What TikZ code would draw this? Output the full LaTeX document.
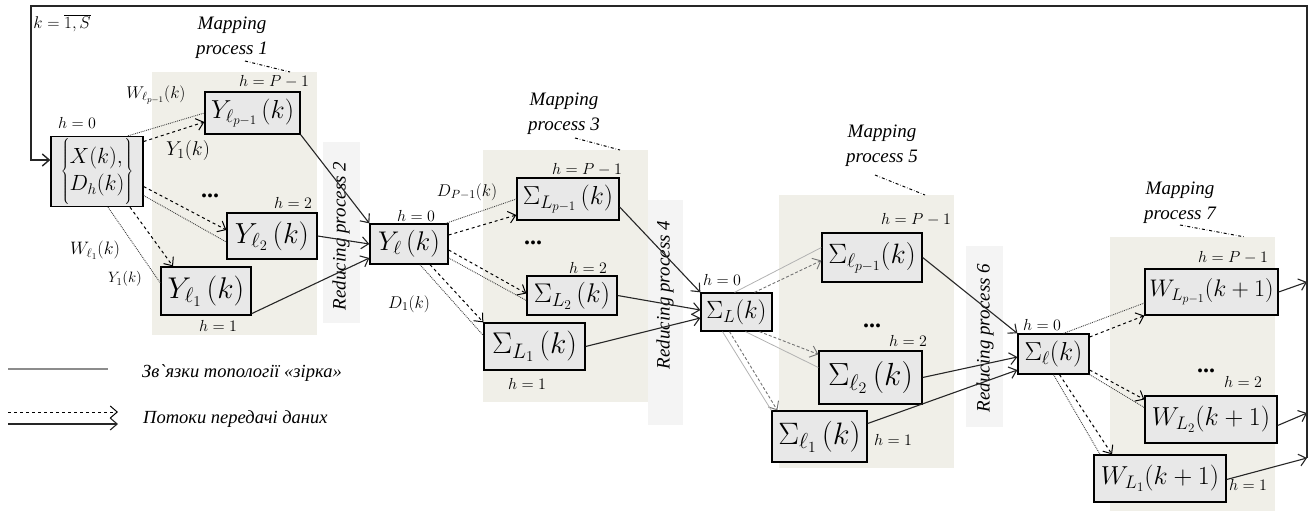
\RequirePackage{fix-cm}
\documentclass[tikz,border=0pt]{standalone}
\usepackage{fontspec}
\setmainfont{Liberation Serif}
\usetikzlibrary{arrows.meta,calc}
\definecolor{boxfill}{HTML}{E8E8E8}
\definecolor{mapfill}{HTML}{F0EFE8}
\definecolor{redfill}{HTML}{F4F4F4}
\newcommand{\fs}[1]{\fontsize{#1}{#1}\selectfont}
\tikzset{
  box/.style={draw=black, line width=1.3pt, fill=boxfill, inner sep=0pt},
  hlab/.style={inner sep=0pt, font=\fs{16}},
  slab/.style={inner sep=0pt, font=\fs{17}},
  proc/.style={inner sep=0pt, font=\fontsize{19}{25}\selectfont\itshape, align=center},
  legtext/.style={inner sep=0pt, anchor=west, font=\fontsize{18.5}{20}\selectfont\itshape},
  dots/.style={inner sep=0pt, font=\fs{24}\bfseries},
  barb/.tip={Straight Barb[length=7pt,width=12pt]},
  star/.style={densely dotted, line width=0.9pt, black!75},
  starlight/.style={line width=0.8pt, black!30},
  flow/.style={dashed, line width=1pt, -barb},
  flowlight/.style={densely dashed, line width=0.9pt, black!55, -barb},
  reduce/.style={line width=1.1pt, black!85, -barb},
  loopline/.style={line width=1.4pt, black!85},
  mapline/.style={dash dot, line width=1pt},
}
\begin{document}
\begin{tikzpicture}[x=1pt,y=-1pt]
\useasboundingbox (0,0) rectangle (1311,511);
% shaded regions
\fill[mapfill] (152,72) rectangle (317,335);
\fill[mapfill] (483,150) rectangle (648,402);
\fill[mapfill] (779,195) rectangle (954,468);
\fill[mapfill] (1110,237) rectangle (1275,511);
\fill[redfill] (323,142) rectangle (360,323);
\fill[redfill] (648,200) rectangle (683,425);
\fill[redfill] (966,246) rectangle (1003,427);

% process labels
\node[proc] (m1) at (232,38) {Mapping\\process 1};
\node[proc] (m3) at (564,114) {Mapping\\process 3};
\node[proc] (m5) at (882,146) {Mapping\\process 5};
\node[proc] (m7) at (1180,203) {Mapping\\process 7};
\coordinate (m1a) at (245,61); \coordinate (m1b) at (290,72);
\coordinate (m3a) at (575,138); \coordinate (m3b) at (620,150);
\coordinate (m5a) at (875,175); \coordinate (m5b) at (925,195);
\coordinate (m7a) at (1180,225); \coordinate (m7b) at (1245,237);
\draw[mapline] (m1a) -- (m1b);
\draw[mapline] (m3a) -- (m3b);
\draw[mapline] (m5a) -- (m5b);
\draw[mapline] (m7a) -- (m7b);
\node[proc, rotate=90] (r2) at (341,236) {Reducing process 2};
\node[proc, rotate=90] (r4) at (665,295) {Reducing process 4};
\node[proc, rotate=90] (r6) at (985,338) {Reducing process 6};

% boxes
\node[box, font=\fs{22}, minimum width=92pt, minimum height=70pt] (X) at (97,171.5)
  {\renewcommand{\arraystretch}{1.25}\delimiterfactor=1000 \delimitershortfall=-6pt
   $\left\{\begin{array}{@{}l@{}} X(k),\\ D_h(k)\end{array}\right\}$};
\node[box, font=\fs{26}, minimum width=95pt, minimum height=42pt] (Yp) at (252.5,113) {$Y_{\ell_{p-1}}\,(k)$};
\node[box, font=\fs{29}, minimum width=90pt, minimum height=46pt] (Y2) at (272,236) {$Y_{\ell_2}\,(k)$};
\node[box, font=\fs{30}, minimum width=90pt, minimum height=48pt] (Y1) at (206,291) {$Y_{\ell_1}\,(k)$};
\node[box, font=\fs{27}, minimum width=78pt, minimum height=40pt] (Yl) at (409,244) {$Y_{\ell}\,(k)$};
\node[box, font=\fs{26}, minimum width=102pt, minimum height=42pt] (Sp) at (568,199) {$\Sigma_{L_{p-1}}\,(k)$};
\node[box, font=\fs{27}, minimum width=90pt, minimum height=39pt] (S2) at (572,295.5) {$\Sigma_{L_2}\,(k)$};
\node[box, font=\fs{30}, minimum width=101pt, minimum height=47pt] (S1) at (534.5,346.5) {$\Sigma_{L_1}\,(k)$};
\node[box, font=\fs{25}, minimum width=71pt, minimum height=38pt] (SL) at (736.5,312) {$\Sigma_L(k)$};
\node[box, font=\fs{28}, minimum width=100pt, minimum height=49pt] (sp) at (872,257.5) {$\Sigma_{\ell_{p-1}}(k)$};
\node[box, font=\fs{32}, minimum width=103pt, minimum height=53pt] (s2) at (870.5,377.5) {$\Sigma_{\ell_2}\,(k)$};
\node[box, font=\fs{31}, minimum width=95pt, minimum height=51pt] (s1) at (819.5,436.5) {$\Sigma_{\ell_1}\,(k)$};
\node[box, font=\fs{26}, minimum width=71pt, minimum height=40pt] (sl) at (1053.5,354) {$\Sigma_{\ell}(k)$};
\node[box, font=\fs{24}, minimum width=133pt, minimum height=46pt] (Wp) at (1211.5,292) {$W_{L_{p-1}}(k+1)$};
\node[box, font=\fs{26}, minimum width=132pt, minimum height=47pt] (W2) at (1211,419.5) {$W_{L_2}(k+1)$};
\node[box, font=\fs{26}, minimum width=132pt, minimum height=47pt] (W1) at (1160,478.5) {$W_{L_1}(k+1)$};

% labels
\node[inner sep=0pt, font=\fs{17}] (k) at (62,23) {$k=\overline{1,S}$};
\node[hlab] (h0a) at (77,123) {$h=0$};
\node[hlab] (hpa) at (274,82) {$h=P-1$};
\node[hlab] (h2a) at (293,203) {$h=2$};
\node[hlab] (h1a) at (218,326) {$h=1$};
\node[dots] (d1) at (210,196) {...};
\node[slab] (wlp) at (156,95) {$W_{\ell_{p-1}}(k)$};
\node[inner sep=0pt, font=\fs{20}] (y1a) at (188,150) {$Y_1(k)$};
\node[inner sep=0pt, font=\fs{18}] (wl1) at (95,250) {$W_{\ell_1}(k)$};
\node[inner sep=0pt, font=\fs{15}] (y1b) at (125,279) {$Y_1(k)$};

\node[hlab] (h0b) at (416,216) {$h=0$};
\node[hlab] (hpb) at (587,170) {$h=P-1$};
\node[hlab] (h2b) at (588,268) {$h=2$};
\node[hlab] (h1b) at (527,384) {$h=1$};
\node[dots] (d3) at (533,243) {...};
\node[slab] (dp) at (467,192) {$D_{P-1}(k)$};
\node[slab] (d1l) at (409,304) {$D_1(k)$};

\node[hlab] (h0c) at (722,280) {$h=0$};
\node[hlab] (hpc) at (916,220) {$h=P-1$};
\node[dots] (d5) at (872,326) {...};
\node[hlab] (h2c) at (908,341) {$h=2$};
\node[hlab] (h1c) at (893,440) {$h=1$};

\node[hlab] (h0d) at (1042,325) {$h=0$};
\node[hlab] (hpd) at (1233,258) {$h=P-1$};
\node[dots] (d7) at (1206,371) {...};
\node[hlab] (h2d) at (1243,382) {$h=2$};
\node[hlab] (h1d) at (1248,485) {$h=1$};

% connectors: X -> mapping 1
\draw[star] ([xshift=31pt]X.north) -- (Yp.west);
\draw[flow] ([yshift=30pt]X.east) -- ([yshift=-9pt]Yp.west);
\draw[flow] ([yshift=-15pt]X.east) -- ([yshift=6pt]Y2.west);
\draw[star] ([yshift=-24pt]X.east) -- ([yshift=-6pt]Y2.west);
\draw[flow] ([xshift=33pt]X.south) -- ([xshift=-33pt]Y1.north);
\draw[star] ([xshift=11pt]X.south) -- ([yshift=8pt]Y1.west);
% reducing 2
\draw[reduce] (Yp.south east) -- (Yl.north west);
\draw[reduce] (Y2.east) -- (Yl.west);
\draw[reduce] ([yshift=2pt]Y1.south east) -- ([yshift=-14pt]Yl.west);
% mapping 3
\draw[star] ([xshift=-3pt]Yl.north east) -- (Sp.west);
\draw[flow] ([yshift=9pt]Yl.east) -- ([yshift=-16pt]Sp.west);
\draw[flow] ([yshift=-6pt]Yl.east) -- ([yshift=2pt]S2.west);
\draw[star] ([yshift=-14pt]Yl.east) -- ([yshift=-5pt]S2.west);
\draw[flow] ([xshift=21pt]Yl.south) -- (S1.north west);
\draw[star] ([xshift=11pt]Yl.south) -- ([yshift=11pt]S1.west);
% reducing 4
\draw[reduce] ([yshift=-8pt]Sp.east) -- (SL.north west);
\draw[reduce] (S2.east) -- ([yshift=2pt]SL.west);
\draw[reduce] (S1.east) -- ([yshift=-6pt]SL.west);
% mapping 5
\draw[starlight] ([xshift=-2pt]SL.north) -- ([yshift=10pt]sp.west);
\draw[flowlight] ([xshift=18pt]SL.north) -- ([yshift=-3pt]sp.west);
\draw[flowlight] ([xshift=23pt]SL.south) -- ([yshift=-4pt]s2.north west);
\draw[starlight] ([xshift=9pt]SL.south) -- ([yshift=10pt]s2.west);
\draw[flowlight] ([xshift=-7pt]SL.south) -- ([xshift=6pt]s1.north west);
\draw[starlight] ([xshift=-14pt]SL.south) -- (s1.north west);
% reducing 6
\draw[reduce] (sp.east) -- (sl.north west);
\draw[reduce] (s2.east) -- ([yshift=-3pt]sl.west);
\draw[reduce] ([yshift=13pt]s1.east) -- ([yshift=-16pt]sl.west);
% mapping 7
\draw[star] ([xshift=10pt]sl.north) -- ([yshift=-11pt]Wp.west);
\draw[flow] ([yshift=17pt]sl.east) -- (Wp.south west);
\draw[flow] ([yshift=-16pt]sl.east) -- ([yshift=20pt]W2.west);
\draw[star] (sl.south east) -- ([yshift=12pt]W2.west);
\draw[flow] ([xshift=6pt]sl.south) -- ([xshift=-48pt]W1.north);
\draw[star] (sl.south) -- ([xshift=-60pt]W1.north);

% feedback loop
\coordinate (o1) at (1307,282);
\coordinate (o2) at (1307,413);
\coordinate (o3) at (1307,458);
\coordinate (tr) at (1307,6);
\coordinate (tl) at (31,6);
\coordinate (bl) at (31,160);
\draw[reduce] (Wp.east) -- (o1);
\draw[reduce] ([yshift=-6pt]W2.east) -- (o2);
\draw[reduce] ([yshift=-1pt]W1.east) -- (o3);
\draw[loopline, -barb] (o3) -- (tr) -- (tl) -- (bl) -- ([yshift=11.5pt]X.west);

% legend
\coordinate (la) at (8,369); \coordinate (lb) at (108,369);
\coordinate (lc) at (8,412); \coordinate (ld) at (118,412);
\coordinate (le) at (8,424); \coordinate (lf) at (118,424);
\draw[line width=1.2pt, black!45] (la) -- (lb);
\draw[flow] (lc) -- (ld);
\draw[reduce] (le) -- (lf);
\node[legtext] (t1) at (142,373) {Зв\textasciigrave язки топології «зірка»};
\node[legtext] (t2) at (143,419) {Потоки передачі даних};
\end{tikzpicture}
\end{document}
